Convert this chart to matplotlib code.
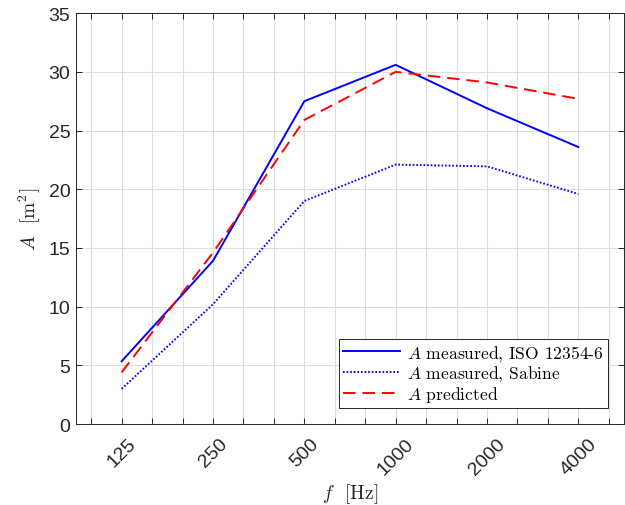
import numpy as np
import matplotlib.pyplot as plt

plt.rcParams['font.family'] = ['Liberation Sans', 'DejaVu Sans']
plt.rcParams['mathtext.fontset'] = 'cm'

# octave band centre frequencies
freqs = [125, 250, 500, 1000, 2000, 4000]
freq_labels = ['125', '250', '500', '1000', '2000', '4000']

# equivalent absorption area A [m^2]
A_iso = [5.35, 13.9, 27.5, 30.6, 26.9, 23.6]
A_sabine = [3.0, 10.2, 19.0, 22.1, 21.95, 19.6]
A_pred = [4.4, 14.6, 25.9, 30.0, 29.1, 27.7]

fig = plt.figure(figsize=(6.25, 5.06), dpi=100)
ax = fig.add_axes([0.1216, 0.160, 0.8768, 0.812])

ax.plot(freqs, A_iso, color='#0000ff', lw=1.4, ls='-',
        label='$A$ measured, ISO 12354-6')
ax.plot(freqs, A_sabine, color='#0000ff', lw=1.4, ls=(0, (0.85, 1.0)),
        label='$A$ measured, Sabine')
ax.plot(freqs, A_pred, color='#ff0000', lw=1.4, ls=(0, (6.5, 3.5)),
        label='$A$ predicted')

# log2 frequency axis, grid on every third-octave band
ax.set_xscale('log', base=2)
ax.set_xlim(125 / np.sqrt(2), 4000 * np.sqrt(2))
thirds = [125 * 2 ** (k / 3) for k in range(-1, 17)]
ax.set_xticks(thirds)
ax.set_xticklabels([freq_labels[freqs.index(round(f))] if round(f) in freqs
                    else '' for f in thirds])
ax.xaxis.set_minor_locator(plt.NullLocator())
ax.set_ylim(0, 35)
ax.set_yticks(np.arange(0, 36, 5))

for lbl in ax.get_xticklabels():
    lbl.set_rotation(45)
    lbl.set_ha('center')

ax.tick_params(direction='in', length=4, width=0.7, colors='#262626',
               labelsize=14, top=True, right=True, labelcolor='#262626')
ax.tick_params(axis='x', pad=8)
ax.tick_params(axis='y', pad=4)
for s in ax.spines.values():
    s.set_color('#262626')
    s.set_linewidth(0.7)
ax.grid(True, color='#dedede', lw=0.8)
ax.set_axisbelow(True)

ax.set_xlabel('$f$  [Hz]', family='cmr10', fontsize=14, color='#262626',
              labelpad=2)
ax.set_ylabel('$A$  [m$^2$]', family='cmr10', fontsize=14, color='#262626',
              labelpad=4)

leg = ax.legend(loc='lower right', bbox_to_anchor=(0.971, 0.039),
                borderaxespad=0, prop={'family': 'cmr10', 'size': 12.6},
                handlelength=3.25, handletextpad=0.4, labelspacing=0.02,
                borderpad=0.25, fancybox=False, framealpha=1)
leg.get_frame().set_edgecolor('#262626')
leg.get_frame().set_linewidth(0.7)

fig.savefig('out.png', dpi=100)
